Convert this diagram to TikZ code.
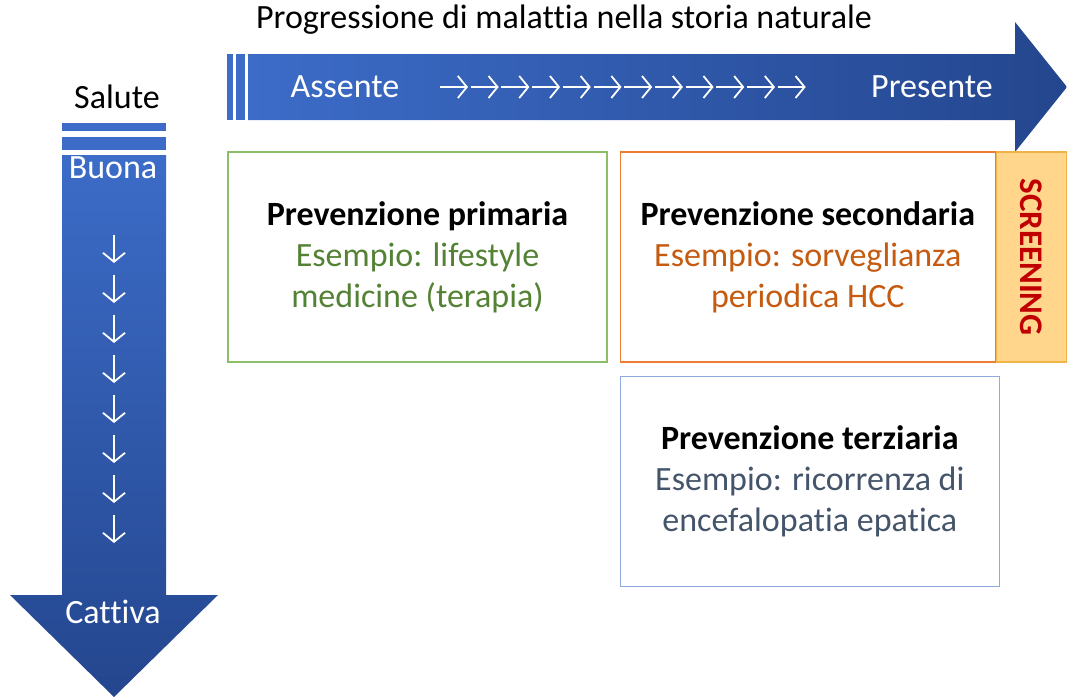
\documentclass[tikz,border=0pt]{standalone}
\usepackage{fontspec}
\setmainfont{Carlito}[Ligatures=NoCommon]
\usetikzlibrary{arrows.meta,positioning,calc}
\definecolor{arrlight}{RGB}{60,108,200}
\definecolor{arrdark}{RGB}{36,70,142}
\definecolor{primline}{RGB}{140,190,105}
\definecolor{primtext}{RGB}{84,130,53}
\definecolor{secline}{RGB}{237,125,49}
\definecolor{sectext}{RGB}{197,90,17}
\definecolor{scrfill}{RGB}{255,214,140}
\definecolor{scrline}{RGB}{240,180,70}
\definecolor{scrtext}{RGB}{192,0,0}
\definecolor{terline}{RGB}{143,170,220}
\definecolor{tertext}{RGB}{68,84,106}
\tikzset{
  bigfont/.style={font=\fontsize{34}{41}\selectfont},
  prevbox/.style={draw,line width=1.3pt,minimum width=379pt,minimum height=210pt,
    inner sep=0pt,align=center,bigfont},
  arrtxt/.style={text=white,bigfont},
  chev/.style={white,line width=1.8pt,-{Straight Barb[length=9pt,width=22pt]}},
}
\begin{document}
\begin{tikzpicture}[x=1pt,y=-1pt]
  \useasboundingbox (0,0) rectangle (1067,699);
  \shade[left color=arrlight,right color=arrdark]
    (248,54) -- (1015,54) -- (1015,22) -- (1067,87) -- (1015,152) -- (1015,120) -- (248,120) -- cycle;
  \fill[arrlight] (227,54) rectangle (233,120);
  \fill[arrlight] (236,54) rectangle (245,120);
  \shade[top color=arrlight,bottom color=arrdark]
    (62,155) -- (166,155) -- (166,595) -- (218,595) -- (114,697) -- (10,595) -- (62,595) -- cycle;
  \fill[arrlight] (62,123) rectangle (166,131);
  \fill[arrlight] (62,137) rectangle (166,150);
  \node[bigfont] (titolo) at (564,20) {Progressione di malattia nella storia naturale};
  \node[bigfont] (salute) at (117,97) {Salute};
  \node[arrtxt] (assente) at (345,87) {Assente};
  \node[arrtxt] (presente) at (932,87) {Presente};
  \node[arrtxt] (buona) at (113,168) {Buona};
  \node[arrtxt] (cattiva) at (113,612) {Cattiva};
  \foreach \i in {0,...,11}
    \draw[chev] (440+30.7*\i,87) -- ++(28,0);
  \foreach \i in {0,...,7}
    \draw[chev] (114,235+40*\i) -- ++(0,28);
  \node[prevbox,draw=primline] (primaria) at (417.5,257)
    {\textbf{Prevenzione primaria}\\\color{primtext}Esempio: lifestyle\\\color{primtext}medicine (terapia)};
  \node[prevbox,draw=secline,minimum width=375pt,right=12pt of primaria] (secondaria)
    {\textbf{Prevenzione secondaria}\\\color{sectext}Esempio: sorveglianza\\\color{sectext}periodica HCC};
  \node[draw=scrline,fill=scrfill,line width=1.3pt,minimum width=70pt,minimum height=210pt,
    inner sep=0pt,right=0pt of secondaria] (screening) {};
  \node[rotate=-90,text=scrtext,font=\fontsize{33}{36}\selectfont\bfseries] (scrtxt)
    at (screening.center) {SCREENING};
  \node[prevbox,draw=terline,below=13pt of secondaria.south west,anchor=north west] (terziaria)
    {\textbf{Prevenzione terziaria}\\\color{tertext}Esempio: ricorrenza di\\\color{tertext}encefalopatia epatica};
\end{tikzpicture}
\end{document}
